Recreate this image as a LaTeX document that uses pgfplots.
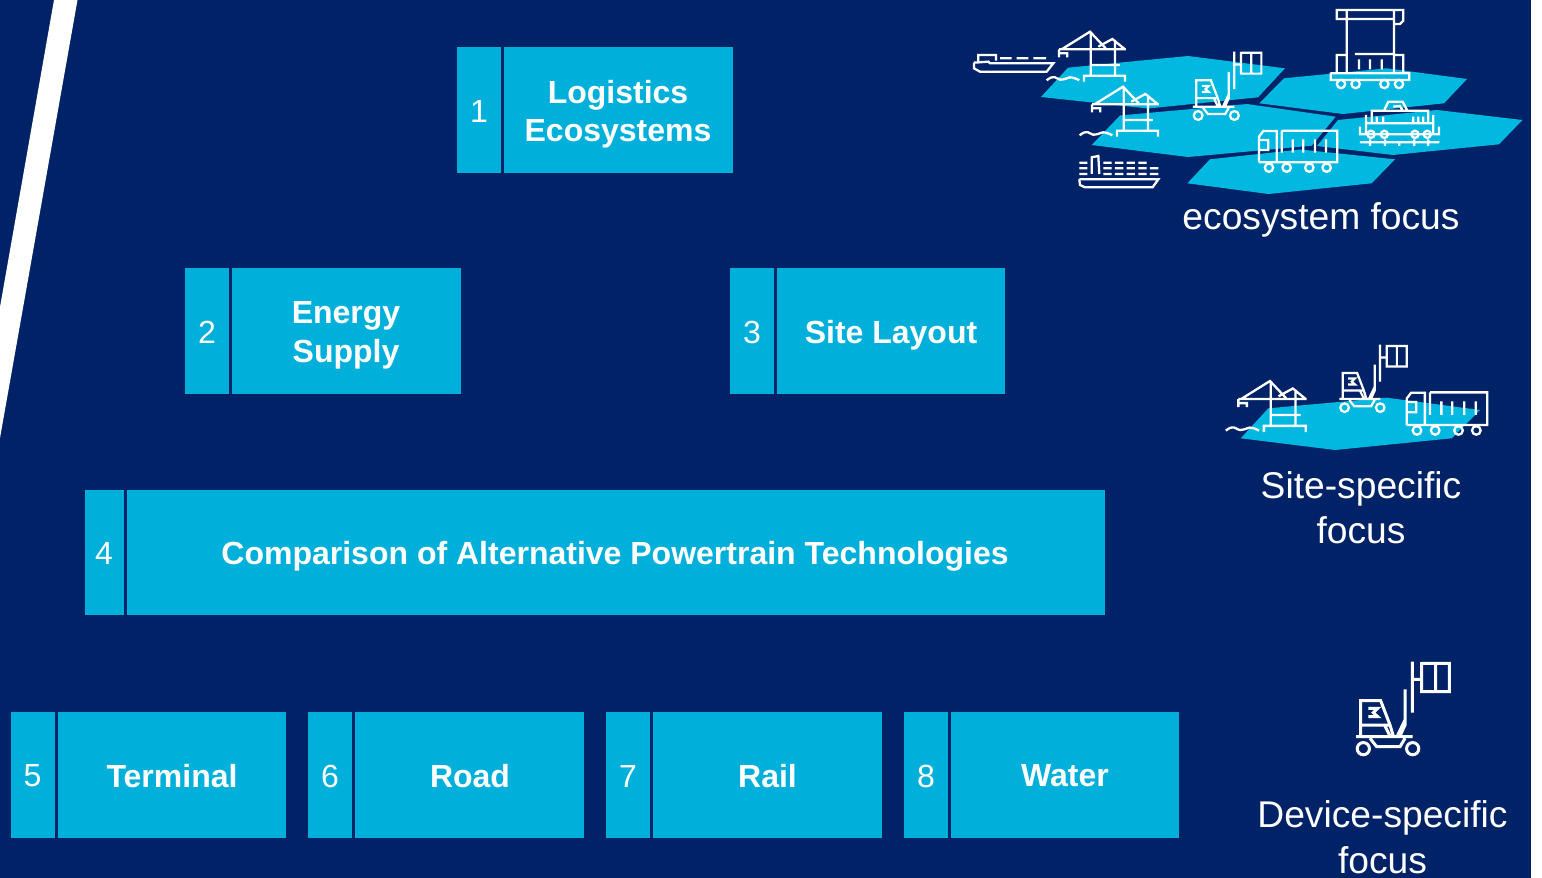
\documentclass[border=0pt]{standalone}
\usepackage{pgfplots}
\pgfplotsset{compat=1.18}
\usepackage{fontspec}
\setmainfont{Liberation Sans}
\definecolor{navy}{RGB}{0,35,104}
\definecolor{boxc}{RGB}{0,176,219}
\definecolor{hexc}{RGB}{0,184,224}
\pgfplotsset{
  shape/.style={fill=#1,draw=none,forget plot},
  ic/.style args={#1/#2/#3/#4}{white,line width=#4pt,forget plot,no markers,unbounded coords=jump,
    x filter/.expression={#1+#3*x},y filter/.expression={#2+#3*y}},
  wh/.style args={#1/#2/#3/#4/#5}{only marks,forget plot,mark=o,mark size=#5pt,
    mark options={draw=white,fill=none,line width=#4pt},
    x filter/.expression={#1+#3*x},y filter/.expression={#2+#3*y}},
}
% #1 dx #2 dy #3 scale #4 line width
\newcommand{\forklift}[5]{%
 \addplot[ic={#1/#2/#3/#4}] coordinates {(217,35)(217,188)(nan,nan) (217,88)(245,88)(nan,nan) (245,40)(328,40)(328,125)(245,125)(245,36)(nan,nan) (287,40)(287,125)(nan,nan)
  (195,118)(195,225)(180,258)(nan,nan) (62,262)(62,152)(122,152)(150,225)(160,258)(nan,nan) (62,225)(150,225)(nan,nan) (85,175)(113,175)(100,188)(113,200)(85,200)(nan,nan)
  (48,260)(218,260)(nan,nan) (172,258)(195,210)(nan,nan) (135,228)(150,258)(nan,nan) (90,265)(110,290)(180,290)(195,265)};
 \addplot[wh={#1/#2/#3/#4/#5}] coordinates {(70,296)(218,296)};
}
\newcommand{\crane}[4]{%
 \addplot[ic={#1/#2/#3/#4}] coordinates {(297,88)(498,88)(nan,nan) (305,88)(390,35)(437,85)(nan,nan) (415,80)(457,57)(495,88)(nan,nan)
  (392,35)(392,165)(nan,nan) (465,60)(465,165)(nan,nan) (392,135)(480,135)(nan,nan) (372,185)(372,167)(495,167)(495,185)(nan,nan)
  (297,88)(297,100)(322,100)(322,112)(nan,nan) (297,100)(297,112)};
 \addplot[ic={#1/#2/#3/#4},smooth] coordinates {(260,181)(272,173)(285,172)(300,179)(315,177)(330,172)(345,175)(358,181)};
}
\newcommand{\truck}[5]{%
 \addplot[ic={#1/#2/#3/#4}] coordinates {(237,487)(237,410)(250,393)(290,393)(290,487)(nan,nan) (237,420)(265,420)(265,450)(237,450)(nan,nan)
  (305,392)(472,392)(472,487)(237,487)(nan,nan) (305,392)(305,458)(nan,nan) (338,418)(338,458)(nan,nan) (370,418)(370,458)(nan,nan) (405,418)(405,458)(nan,nan) (438,418)(438,458)};
 \addplot[wh={#1/#2/#3/#4/#5}] coordinates {(267,503)(320,503)(388,503)(440,503)};
}
\begin{document}
\begin{tikzpicture}
\begin{axis}[hide axis,scale only axis,width=771pt,height=439pt,
  xmin=0,xmax=1542,ymin=0,ymax=878,y dir=reverse,clip=false]
% background
\addplot[shape=white] coordinates {(0,0)(1542,0)(1542,878)(0,878)} -- cycle;
\addplot[shape=navy] coordinates {(0,0)(1531,0)(1531,878)(0,878)} -- cycle;
\addplot[shape=white] coordinates {(54,0)(77.5,0)(0,438)(0,307)} -- cycle;
% hexagons
\addplot[shape=hexc] coordinates {(1041,97)(1068,67.7)(1188,56)(1285,68.3)(1258,97.3)(1148,108.5)} -- cycle;
\addplot[shape=hexc] coordinates {(1091.7,145)(1120,115.5)(1247,104)(1335.7,116.7)(1311.7,145.7)(1188,157)} -- cycle;
\addplot[shape=hexc] coordinates {(1259.3,103.3)(1284,78.3)(1386.7,68.3)(1467,79)(1444,103.3)(1343,114)} -- cycle;
\addplot[shape=hexc] coordinates {(1317,146)(1338,120)(1437,110)(1522.5,120)(1499,144.3)(1393,155)} -- cycle;
\addplot[shape=hexc] coordinates {(1187.3,183.3)(1210,159.3)(1300,149.5)(1395,159.3)(1371.7,183.3)(1268.6,194)} -- cycle;
\addplot[shape=hexc] coordinates {(1240.7,438.3)(1268.3,408.3)(1386.7,397.7)(1480,410)(1451.7,438.3)(1335,450)} -- cycle;
% icons: ecosystem
\crane{960}{20}{0.3333}{1.15}
\crane{993}{75}{0.3333}{1.15}
\forklift{1181}{43}{0.245}{1.1}{2.2}
\truck{1180}{0}{0.3333}{1.15}{2.1}
% straddle carrier
\addplot[ic={1180/0/0.3333/1.15}] coordinates {(645,57)(470,57)(470,30)(670,30)(670,62)(660,72)(642,72)(nan,nan) (500,30)(500,222)(nan,nan) (642,30)(642,222)(nan,nan)
  (470,222)(470,165)(500,165)(nan,nan) (642,165)(670,165)(670,222)(nan,nan) (525,162)(642,162)(nan,nan) (537,178)(537,208)(nan,nan) (570,178)(570,208)(nan,nan) (605,178)(605,208)(nan,nan)
  (452,220)(688,220)(688,240)(452,240)(452,218)};
\addplot[wh={1180/0/0.3333/1.15/2.1}] coordinates {(483,252)(527,252)(613,252)(657,252)};
% locomotive
\addplot[ic={1180/0/0.3333/1.15}] coordinates {(612,332)(625,305)(668,305)(682,332)(nan,nan) (640,320)(660,318)(668,332)(nan,nan) (575,368)(575,332)(745,332)(745,368)(nan,nan)
  (558,345)(558,405)(nan,nan) (760,345)(760,405)(nan,nan) (558,370)(760,370)(nan,nan) (540,380)(540,403)(777,403)(777,380)(nan,nan) (590,350)(590,368)(nan,nan) (610,350)(610,368)(nan,nan) (700,350)(700,368)(nan,nan) (715,350)(715,368)(nan,nan) (730,350)(730,368)(nan,nan)
  (540,427)(778,427)(nan,nan) (570,418)(570,438)(nan,nan) (615,418)(615,438)(nan,nan) (658,428)(658,438)(nan,nan) (703,418)(703,438)(nan,nan) (745,418)(745,438)};
\addplot[wh={1180/0/0.3333/1.15/1.8}] coordinates {(573,403)(613,403)(705,403)(742,403)};
% barge
\addplot[ic={960/20/0.3333/1.15}] coordinates {(42,128)(42,145)(60,155)(260,155)(280,130)(90,130)(85,125)(42,128)(nan,nan) (55,128)(55,105)(108,105)(108,122)(nan,nan)
  (120,115)(155,115)(nan,nan) (170,115)(205,115)(nan,nan) (220,115)(258,115)};
% container ship
\addplot[ic={960/20/0.3333/1.15}] coordinates {(358,478)(595,478)(578,502)(375,502)(360,495)(358,478)(nan,nan) (395,462)(395,412)(415,408)(418,462)(nan,nan)
  (358,428)(382,428)(nan,nan) (358,445)(382,445)(nan,nan) (358,462)(382,462)(nan,nan)
  (430,428)(455,428)(nan,nan) (465,428)(490,428)(nan,nan) (500,428)(525,428)(nan,nan) (535,428)(560,428)(nan,nan)
  (430,445)(455,445)(nan,nan) (465,445)(490,445)(nan,nan) (500,445)(525,445)(nan,nan) (535,445)(560,445)(nan,nan) (570,445)(595,445)(nan,nan)
  (430,462)(455,462)(nan,nan) (465,462)(490,462)(nan,nan) (500,462)(525,462)(nan,nan) (535,462)(560,462)(nan,nan) (570,462)(595,462)};
% site
\crane{1137.4}{369.1}{0.34}{1.15}
\forklift{1327.7}{336.3}{0.241}{1.1}{2.15}
\truck{1325.4}{257.9}{0.343}{1.15}{2.15}
% device
\forklift{1340}{650}{0.3333}{1.5}{3.05}
% boxes
\addplot[shape=boxc] coordinates {(457,47)(501,47)(501,172.5)(457,172.5)} -- cycle;
\addplot[shape=boxc] coordinates {(504,47)(733,47)(733,172.5)(504,172.5)} -- cycle;
\addplot[shape=boxc] coordinates {(185,268)(229,268)(229,393.5)(185,393.5)} -- cycle;
\addplot[shape=boxc] coordinates {(232,268)(461,268)(461,393.5)(232,393.5)} -- cycle;
\addplot[shape=boxc] coordinates {(730,268)(774,268)(774,393.5)(730,393.5)} -- cycle;
\addplot[shape=boxc] coordinates {(777,268)(1005,268)(1005,393.5)(777,393.5)} -- cycle;
\addplot[shape=boxc] coordinates {(85,489.5)(124,489.5)(124,615)(85,615)} -- cycle;
\addplot[shape=boxc] coordinates {(126.5,489.5)(1105,489.5)(1105,615)(126.5,615)} -- cycle;
\addplot[shape=boxc] coordinates {(10.5,712)(55,712)(55,837.5)(10.5,837.5)} -- cycle;
\addplot[shape=boxc] coordinates {(58,712)(286,712)(286,837.5)(58,837.5)} -- cycle;
\addplot[shape=boxc] coordinates {(308,712)(352,712)(352,837.5)(308,837.5)} -- cycle;
\addplot[shape=boxc] coordinates {(355,712)(584,712)(584,837.5)(355,837.5)} -- cycle;
\addplot[shape=boxc] coordinates {(606,712)(650,712)(650,837.5)(606,837.5)} -- cycle;
\addplot[shape=boxc] coordinates {(653,712)(882,712)(882,837.5)(653,837.5)} -- cycle;
\addplot[shape=boxc] coordinates {(904,712)(948,712)(948,837.5)(904,837.5)} -- cycle;
\addplot[shape=boxc] coordinates {(951,712)(1179,712)(1179,837.5)(951,837.5)} -- cycle;
% text
\tikzset{bt/.style={text=white,font=\fontsize{16}{19.2}\selectfont\bfseries,align=center,inner sep=0pt},
 nt/.style={text=white,font=\fontsize{16}{19.2}\selectfont,inner sep=0pt},
 st/.style={text=white,font=\fontsize{18.6}{22.7}\selectfont,align=center,inner sep=0pt}}
\node[bt] at (axis cs:618,114) {Logistics\\Ecosystems};
\node[bt] at (axis cs:346,335.5) {Energy\\Supply};
\node[bt] at (axis cs:891,335) {Site Layout};
\node[bt] at (axis cs:615,556) {Comparison of Alternative Powertrain Technologies};
\node[bt] at (axis cs:172,776) {Terminal};
\node[bt] at (axis cs:470,776) {Road};
\node[bt] at (axis cs:767.5,776) {Rail};
\node[bt] at (axis cs:1065,776) {Water};
\node[nt] at (axis cs:479,111) {1};
\node[nt] at (axis cs:207,332) {2};
\node[nt] at (axis cs:752,332) {3};
\node[nt] at (axis cs:104,553) {4};
\node[nt] at (axis cs:32.5,776) {5};
\node[nt] at (axis cs:330,776) {6};
\node[nt] at (axis cs:628,776) {7};
\node[nt] at (axis cs:926,776) {8};
\node[st] at (axis cs:1321,220) {ecosystem focus};
\node[st] at (axis cs:1361,507.5) {Site-specific\\focus};
\node[st] at (axis cs:1382.5,837) {Device-specific\\focus};
\end{axis}
\end{tikzpicture}
\end{document}
